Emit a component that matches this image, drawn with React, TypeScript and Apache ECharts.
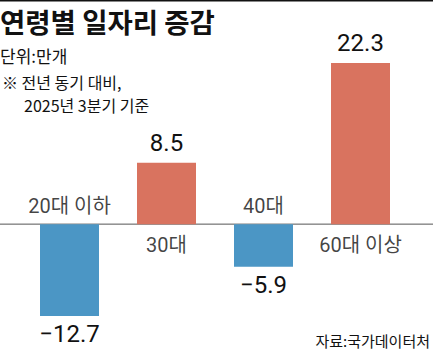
import React, { useEffect, useRef } from "react";
import * as echarts from "echarts";

const categories = ["20대 이하", "30대", "40대", "60대 이상"];
const values = [-12.7, 8.5, -5.9, 22.3];
const titleText = "연령별 일자리 증감";
const unitText = "단위:만개";
const noteLines = ["※ 전년 동기 대비,", "2025년 3분기 기준"];
const sourceText = "자료:국가데이터처";

const POS = "#D9735F";
const NEG = "#4B96C5";
const NUM_FONT = "Roboto, 'Noto Sans CJK KR', sans-serif";
const KR_FONT = "'Noto Sans CJK KR', sans-serif";

export default function App() {
  const ref = useRef<HTMLDivElement>(null);
  useEffect(() => {
    document.body.style.margin = "0";
    const chart = echarts.init(ref.current!, null, { renderer: "svg" });
    const option: any = {
      animation: false,
      backgroundColor: "#fff",
      grid: { left: 21, right: 24, top: 43.5, bottom: 22.5 },
      xAxis: {
        type: "category",
        data: categories,
        axisLine: { show: false },
        axisTick: { show: false },
        axisLabel: { show: false },
      },
      yAxis: {
        type: "value",
        min: -15,
        max: 25,
        show: false,
        splitLine: { show: false },
      },
      series: [
        {
          type: "bar",
          barWidth: 59,
          silent: true,
          data: values.map((v) => ({
            value: v,
            itemStyle: { color: v >= 0 ? POS : NEG },
            label: {
              show: true,
              position: v >= 0 ? "top" : "bottom",
              distance: v >= 0 ? 8 : 6,
              formatter: () => (v < 0 ? "\u2212" + Math.abs(v).toFixed(1) : v.toFixed(1)),
              fontFamily: NUM_FONT,
              fontSize: 24,
              color: "#111",
            },
          })),
        },
        {
          type: "scatter",
          silent: true,
          symbolSize: 1,
          itemStyle: { color: "rgba(0,0,0,0)" },
          data: values.map((v, i) => ({
            value: 0,
            label: {
              show: true,
              position: v >= 0 ? "bottom" : "top",
              distance: v >= 0 ? 10 : 8,
              formatter: categories[i],
              fontFamily: NUM_FONT,
              fontSize: 20,
              color: "#111",
            },
          })),
        },
      ],
    };
    chart.setOption(option);
    const y0 = chart.convertToPixel({ yAxisIndex: 0 }, 0) as number;
    chart.setOption({
      graphic: [
        { type: "rect", shape: { x: 0, y: 0, width: 433, height: 1.5 }, style: { fill: "#111" } },
        {
          type: "line",
          shape: { x1: 0, y1: y0, x2: 433, y2: y0 },
          style: { stroke: "#555", lineWidth: 1 },
        },
        {
          type: "text",
          x: 0,
          y: 7,
          style: { text: titleText, font: `bold 27.5px ${KR_FONT}`, fill: "#111" },
        },
        {
          type: "text",
          x: 0,
          y: 47,
          style: { text: unitText, font: `17px ${KR_FONT}`, fill: "#111" },
        },
        {
          type: "text",
          x: 2,
          y: 74,
          style: { text: noteLines[0], font: `16px ${KR_FONT}`, fill: "#111" },
        },
        {
          type: "text",
          x: 24,
          y: 97,
          style: { text: noteLines[1], font: `16px ${KR_FONT}`, fill: "#111" },
        },
        {
          type: "text",
          right: 3,
          y: 333,
          style: { text: sourceText, font: `15px ${KR_FONT}`, fill: "#111" },
        },
      ],
    });
    return () => chart.dispose();
  }, []);
  return <div ref={ref} style={{ width: 433, height: 355 }} />;
}
